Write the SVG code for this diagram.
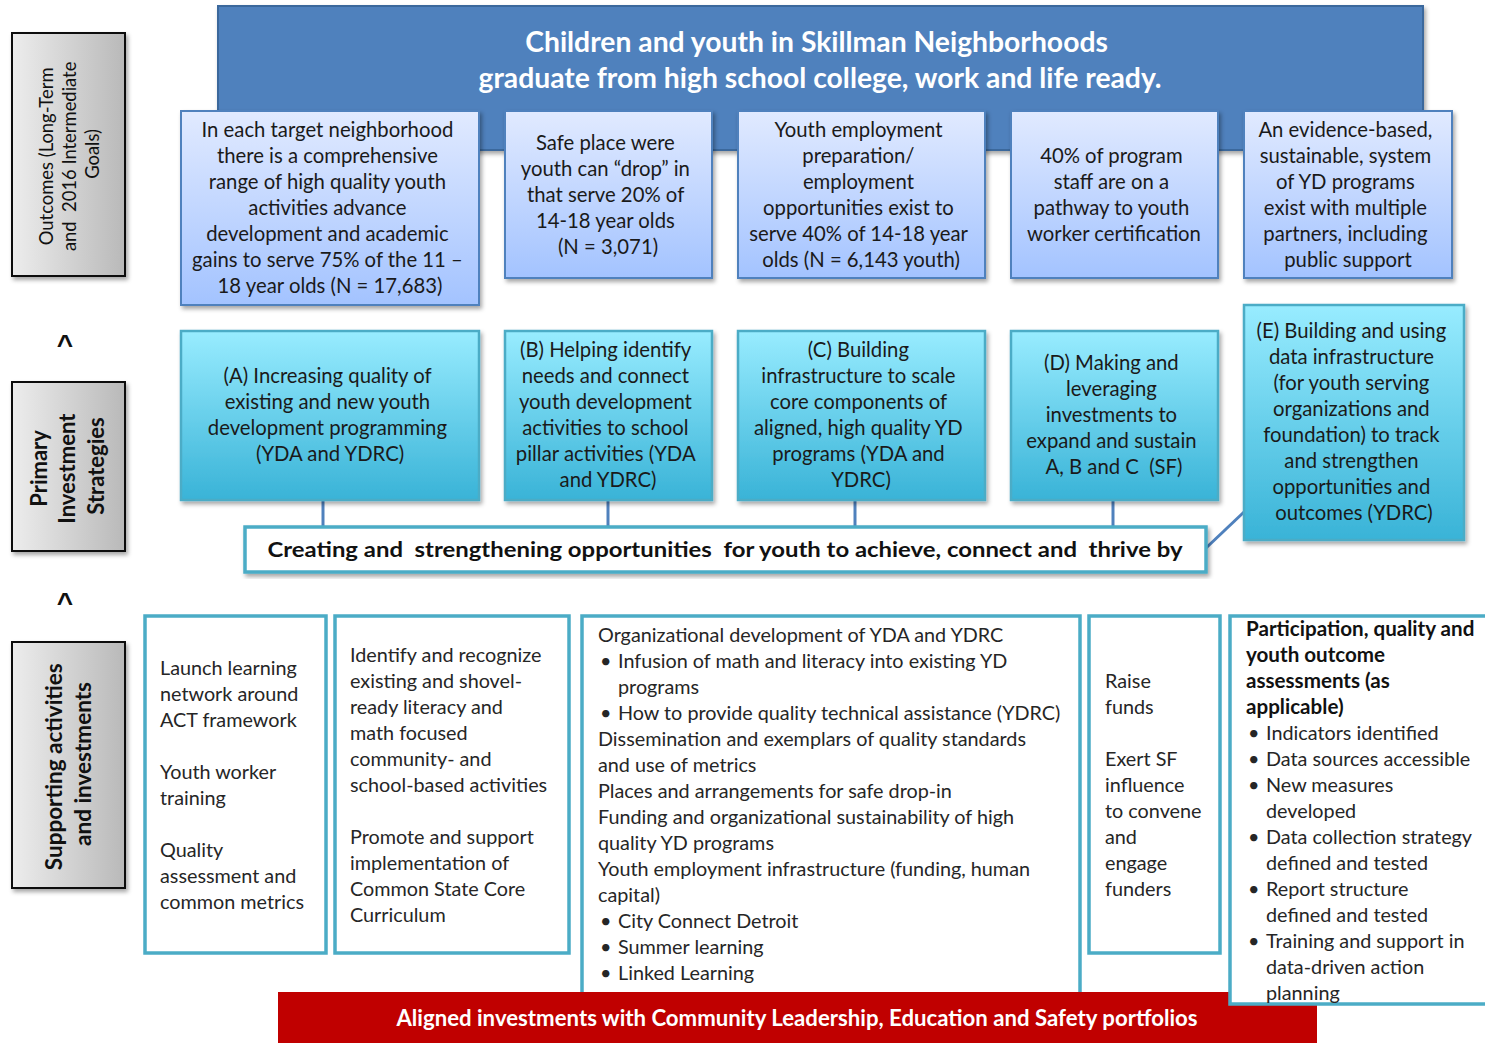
<svg xmlns="http://www.w3.org/2000/svg" width="1485" height="1043" viewBox="0 0 1485 1043">
  <defs>
    <linearGradient id="gOutcome" x1="0" y1="0" x2="0" y2="1">
      <stop offset="0" stop-color="#E1EAFF"/>
      <stop offset="1" stop-color="#A3C3FF"/>
    </linearGradient>
    <linearGradient id="gStrategy" x1="0" y1="0" x2="0" y2="1">
      <stop offset="0" stop-color="#98ECFF"/>
      <stop offset="1" stop-color="#39B3D7"/>
    </linearGradient>
    <linearGradient id="gLabel" x1="0" y1="0" x2="1" y2="0">
      <stop offset="0" stop-color="#EDEDED"/>
      <stop offset="1" stop-color="#B9B9B9"/>
    </linearGradient>
    <filter id="shadow" x="-5%" y="-5%" width="115%" height="120%">
      <feDropShadow dx="2" dy="3" stdDeviation="2" flood-color="#000" flood-opacity="0.35"/>
    </filter>
    <style>
      .label { fill: url(#gLabel); stroke: #111; stroke-width: 2; filter: url(#shadow); }
      .labelText { font-family: Lato, "Liberation Sans", sans-serif; fill: #111; text-anchor: middle; }
      .outcome { fill: url(#gOutcome); stroke: #4F81BD; stroke-width: 2; filter: url(#shadow); }
      .strategy { fill: url(#gStrategy); stroke: #4BACC6; stroke-width: 2.5; filter: url(#shadow); }
      .boxText { font-family: Lato, "Liberation Sans", sans-serif; font-size: 20.3px; fill: #1A1A1A; text-anchor: middle; }
      .support { fill: #FFFFFF; stroke: #4BACC6; stroke-width: 3.5; }
      .supText { font-family: Lato, "Liberation Sans", sans-serif; font-size: 19.8px; fill: #262626; }
      .supHead { font-weight: bold; font-size: 20.6px; fill: #111; }
      .conn { stroke: #4F81BD; stroke-width: 3; fill: none; }
      .caret { font-family: "Liberation Sans", sans-serif; font-weight: bold; font-size: 28px; fill: #111; text-anchor: middle; }
    </style>
  </defs>

  <rect width="1485" height="1043" fill="#FFFFFF"/>

  <!-- left column labels -->
  <g id="label-outcomes">
    <rect class="label" x="12" y="33" width="113" height="243"/>
    <text class="labelText" font-size="18.4" transform="translate(68,154) rotate(-90)">
      <tspan x="0" y="-15">Outcomes (Long-Term</tspan>
      <tspan x="0" y="8" xml:space="preserve">and  2016 Intermediate</tspan>
      <tspan x="0" y="31">Goals)</tspan>
    </text>
  </g>
  <text class="caret" x="65" y="354">^</text>
  <g id="label-strategies">
    <rect class="label" x="12" y="382" width="113" height="169"/>
    <text class="labelText" font-size="22" font-weight="bold" transform="translate(68,466) rotate(-90)">
      <tspan x="0" y="-21">Primary</tspan>
      <tspan x="0" y="7">Investment</tspan>
      <tspan x="0" y="36">Strategies</tspan>
    </text>
  </g>
  <text class="caret" x="65" y="612">^</text>
  <g id="label-supporting">
    <rect class="label" x="12" y="642" width="113" height="246"/>
    <text class="labelText" font-size="22.5" font-weight="bold" transform="translate(68,764) rotate(-90)">
      <tspan x="0" y="-6">Supporting activities</tspan>
      <tspan x="0" y="23">and investments</tspan>
    </text>
  </g>

  <!-- long-term goal banner -->
  <g id="banner">
    <rect x="218" y="6" width="1205" height="144" fill="#4F81BD" stroke="#3A679C" stroke-width="2" filter="url(#shadow)"/>
    <text font-family="Lato, 'Liberation Sans', sans-serif" font-weight="bold" font-size="28.3" fill="#FFFFFF" text-anchor="middle">
      <tspan x="820" y="52">Children and youth in Skillman Neighborhoods</tspan>
      <tspan x="820" y="88">graduate from high school college, work and life ready.</tspan>
    </text>
  </g>

  <!-- outcomes -->
  <g id="outcome-1">
    <rect class="outcome" x="181" y="111" width="298" height="194"/>
    <text class="boxText">
      <tspan x="330" y="137">In each target neighborhood</tspan>
      <tspan x="330" y="163">there is a comprehensive</tspan>
      <tspan x="330" y="189">range of high quality youth</tspan>
      <tspan x="330" y="215">activities advance</tspan>
      <tspan x="330" y="241">development and academic</tspan>
      <tspan x="330" y="267">gains to serve 75% of the 11 –</tspan>
      <tspan x="330" y="293">18 year olds (N = 17,683)</tspan>
    </text>
  </g>
  <g id="outcome-2">
    <rect class="outcome" x="505" y="111" width="207" height="167"/>
    <text class="boxText">
      <tspan x="608" y="150">Safe place were</tspan>
      <tspan x="608" y="176">youth can “drop” in</tspan>
      <tspan x="608" y="202">that serve 20% of</tspan>
      <tspan x="608" y="228">14-18 year olds</tspan>
      <tspan x="608" y="254">(N = 3,071)</tspan>
    </text>
  </g>
  <g id="outcome-3">
    <rect class="outcome" x="738" y="111" width="247" height="167"/>
    <text class="boxText">
      <tspan x="861" y="137">Youth employment</tspan>
      <tspan x="861" y="163">preparation/</tspan>
      <tspan x="861" y="189">employment</tspan>
      <tspan x="861" y="215">opportunities exist to</tspan>
      <tspan x="861" y="241">serve 40% of 14-18 year</tspan>
      <tspan x="861" y="267">olds (N = 6,143 youth)</tspan>
    </text>
  </g>
  <g id="outcome-4">
    <rect class="outcome" x="1011" y="111" width="207" height="167"/>
    <text class="boxText">
      <tspan x="1114" y="163">40% of program</tspan>
      <tspan x="1114" y="189">staff are on a</tspan>
      <tspan x="1114" y="215">pathway to youth</tspan>
      <tspan x="1114" y="241">worker certification</tspan>
    </text>
  </g>
  <g id="outcome-5">
    <rect class="outcome" x="1244" y="111" width="208" height="167"/>
    <text class="boxText">
      <tspan x="1348" y="137">An evidence-based,</tspan>
      <tspan x="1348" y="163">sustainable, system</tspan>
      <tspan x="1348" y="189">of YD programs</tspan>
      <tspan x="1348" y="215">exist with multiple</tspan>
      <tspan x="1348" y="241">partners, including</tspan>
      <tspan x="1348" y="267">public support</tspan>
    </text>
  </g>

  <!-- links from strategies to the shared bar -->
  <g id="connectors">
    <line class="conn" x1="323" y1="500" x2="323" y2="527"/>
    <line class="conn" x1="608" y1="500" x2="608" y2="527"/>
    <line class="conn" x1="855" y1="500" x2="855" y2="527"/>
    <line class="conn" x1="1113" y1="500" x2="1113" y2="527"/>
    <line class="conn" x1="1244" y1="512" x2="1206" y2="548"/>
  </g>

  <!-- primary investment strategies -->
  <g id="strategy-a">
    <rect class="strategy" x="181" y="331" width="298" height="169"/>
    <text class="boxText">
      <tspan x="330" y="383">(A) Increasing quality of</tspan>
      <tspan x="330" y="409">existing and new youth</tspan>
      <tspan x="330" y="435">development programming</tspan>
      <tspan x="330" y="461">(YDA and YDRC)</tspan>
    </text>
  </g>
  <g id="strategy-b">
    <rect class="strategy" x="505" y="331" width="207" height="169"/>
    <text class="boxText">
      <tspan x="608" y="357">(B) Helping identify</tspan>
      <tspan x="608" y="383">needs and connect</tspan>
      <tspan x="608" y="409">youth development</tspan>
      <tspan x="608" y="435">activities to school</tspan>
      <tspan x="608" y="461">pillar activities (YDA</tspan>
      <tspan x="608" y="487">and YDRC)</tspan>
    </text>
  </g>
  <g id="strategy-c">
    <rect class="strategy" x="738" y="331" width="247" height="169"/>
    <text class="boxText">
      <tspan x="861" y="357">(C) Building</tspan>
      <tspan x="861" y="383">infrastructure to scale</tspan>
      <tspan x="861" y="409">core components of</tspan>
      <tspan x="861" y="435">aligned, high quality YD</tspan>
      <tspan x="861" y="461">programs (YDA and</tspan>
      <tspan x="861" y="487">YDRC)</tspan>
    </text>
  </g>
  <g id="strategy-d">
    <rect class="strategy" x="1011" y="331" width="207" height="169"/>
    <text class="boxText">
      <tspan x="1114" y="370">(D) Making and</tspan>
      <tspan x="1114" y="396">leveraging</tspan>
      <tspan x="1114" y="422">investments to</tspan>
      <tspan x="1114" y="448">expand and sustain</tspan>
      <tspan x="1114" y="474" xml:space="preserve">A, B and C  (SF)</tspan>
    </text>
  </g>
  <g id="strategy-e">
    <rect class="strategy" x="1244" y="305" width="220" height="235"/>
    <text class="boxText">
      <tspan x="1354" y="338">(E) Building and using</tspan>
      <tspan x="1354" y="364">data infrastructure</tspan>
      <tspan x="1354" y="390">(for youth serving</tspan>
      <tspan x="1354" y="416">organizations and</tspan>
      <tspan x="1354" y="442">foundation) to track</tspan>
      <tspan x="1354" y="468">and strengthen</tspan>
      <tspan x="1354" y="494">opportunities and</tspan>
      <tspan x="1354" y="520">outcomes (YDRC)</tspan>
    </text>
  </g>

  <!-- shared strategy bar -->
  <g id="bar-creating">
    <rect x="245" y="527" width="961" height="45" fill="#FFFFFF" stroke="#4BACC6" stroke-width="3.5" filter="url(#shadow)"/>
    <text x="725" y="557" font-family="Lato, 'Liberation Sans', sans-serif" font-weight="bold" font-size="21" fill="#111" text-anchor="middle" textLength="915" lengthAdjust="spacingAndGlyphs" xml:space="preserve">Creating and  strengthening opportunities  for youth to achieve, connect and  thrive by</text>
  </g>

  <!-- supporting activities -->
  <g id="support-1">
    <rect class="support" x="145" y="616" width="181" height="337"/>
    <text class="supText">
      <tspan x="160" y="675">Launch learning</tspan>
      <tspan x="160" y="701">network around</tspan>
      <tspan x="160" y="727">ACT framework</tspan>
      <tspan x="160" y="779">Youth worker</tspan>
      <tspan x="160" y="805">training</tspan>
      <tspan x="160" y="857">Quality</tspan>
      <tspan x="160" y="883">assessment and</tspan>
      <tspan x="160" y="909">common metrics</tspan>
    </text>
  </g>
  <g id="support-2">
    <rect class="support" x="335" y="616" width="234" height="337"/>
    <text class="supText">
      <tspan x="350" y="662">Identify and recognize</tspan>
      <tspan x="350" y="688">existing and shovel-</tspan>
      <tspan x="350" y="714">ready literacy and</tspan>
      <tspan x="350" y="740">math focused</tspan>
      <tspan x="350" y="766">community- and</tspan>
      <tspan x="350" y="792">school-based activities</tspan>
      <tspan x="350" y="844">Promote and support</tspan>
      <tspan x="350" y="870">implementation of</tspan>
      <tspan x="350" y="896">Common State Core</tspan>
      <tspan x="350" y="922">Curriculum</tspan>
    </text>
  </g>
  <g id="support-3">
    <rect class="support" x="582" y="616" width="498" height="380"/>
    <text class="supText">
      <tspan x="598" y="642">Organizational development of YDA and YDRC</tspan>
      <tspan x="600" y="668">•</tspan><tspan x="618" y="668">Infusion of math and literacy into existing YD</tspan>
      <tspan x="618" y="694">programs</tspan>
      <tspan x="600" y="720">•</tspan><tspan x="618" y="720">How to provide quality technical assistance (YDRC)</tspan>
      <tspan x="598" y="746">Dissemination and exemplars of quality standards</tspan>
      <tspan x="598" y="772">and use of metrics</tspan>
      <tspan x="598" y="798">Places and arrangements for safe drop-in</tspan>
      <tspan x="598" y="824">Funding and organizational sustainability of high</tspan>
      <tspan x="598" y="850">quality YD programs</tspan>
      <tspan x="598" y="876">Youth employment infrastructure (funding, human</tspan>
      <tspan x="598" y="902">capital)</tspan>
      <tspan x="600" y="928">•</tspan><tspan x="618" y="928">City Connect Detroit</tspan>
      <tspan x="600" y="954">•</tspan><tspan x="618" y="954">Summer learning</tspan>
      <tspan x="600" y="980">•</tspan><tspan x="618" y="980">Linked Learning</tspan>
    </text>
  </g>
  <g id="support-4">
    <rect class="support" x="1089" y="616" width="131" height="337"/>
    <text class="supText">
      <tspan x="1105" y="688">Raise</tspan>
      <tspan x="1105" y="714">funds</tspan>
      <tspan x="1105" y="766">Exert SF</tspan>
      <tspan x="1105" y="792">influence</tspan>
      <tspan x="1105" y="818">to convene</tspan>
      <tspan x="1105" y="844">and</tspan>
      <tspan x="1105" y="870">engage</tspan>
      <tspan x="1105" y="896">funders</tspan>
    </text>
  </g>

  <!-- aligned portfolio bar -->
  <g id="bar-aligned">
    <rect x="278" y="992" width="1039" height="60" fill="#C00000"/>
    <text x="797" y="1026" font-family="Lato, 'Liberation Sans', sans-serif" font-weight="bold" font-size="22.2" fill="#FFFFFF" text-anchor="middle">Aligned investments with Community Leadership, Education and Safety portfolios</text>
  </g>

  <g id="support-5">
    <rect class="support" x="1230" y="616" width="280" height="388"/>
    <text class="supText">
      <tspan class="supHead" x="1246" y="636">Participation, quality and</tspan>
      <tspan class="supHead" x="1246" y="662">youth outcome</tspan>
      <tspan class="supHead" x="1246" y="688">assessments (as</tspan>
      <tspan class="supHead" x="1246" y="714">applicable)</tspan>
      <tspan x="1248" y="740">•</tspan><tspan x="1266" y="740">Indicators identified</tspan>
      <tspan x="1248" y="766">•</tspan><tspan x="1266" y="766">Data sources accessible</tspan>
      <tspan x="1248" y="792">•</tspan><tspan x="1266" y="792">New measures</tspan>
      <tspan x="1266" y="818">developed</tspan>
      <tspan x="1248" y="844">•</tspan><tspan x="1266" y="844">Data collection strategy</tspan>
      <tspan x="1266" y="870">defined and tested</tspan>
      <tspan x="1248" y="896">•</tspan><tspan x="1266" y="896">Report structure</tspan>
      <tspan x="1266" y="922">defined and tested</tspan>
      <tspan x="1248" y="948">•</tspan><tspan x="1266" y="948">Training and support in</tspan>
      <tspan x="1266" y="974">data-driven action</tspan>
      <tspan x="1266" y="1000">planning</tspan>
    </text>
  </g>
</svg>
